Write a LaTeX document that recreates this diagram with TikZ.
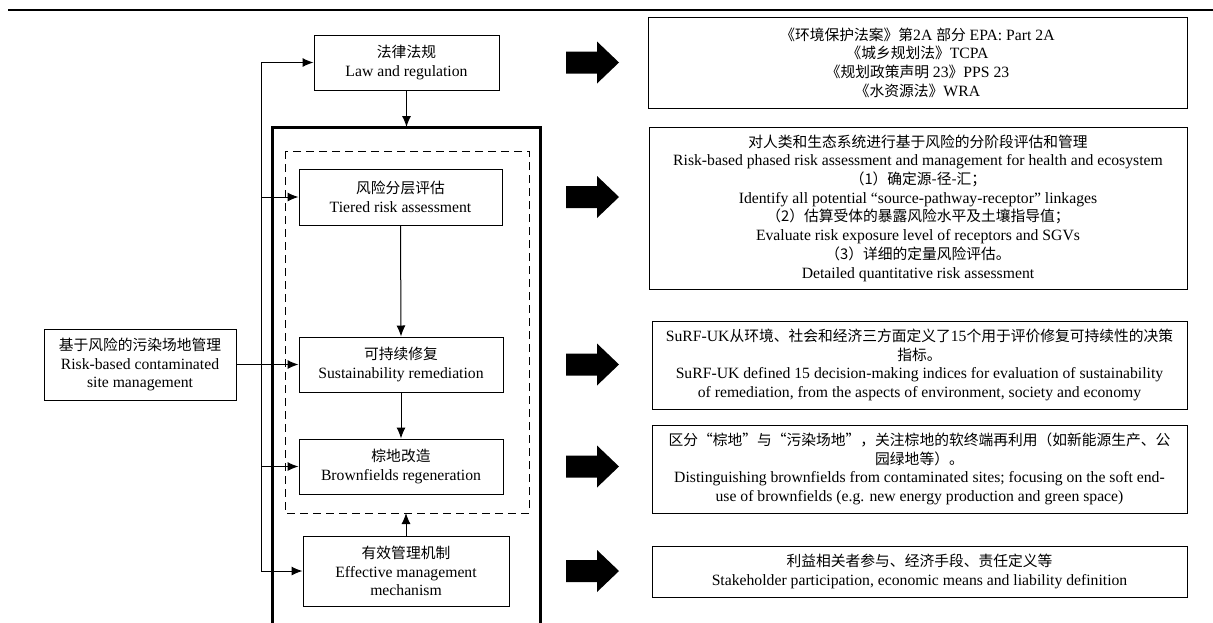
\documentclass[tikz,border=0pt]{standalone}
\usepackage{fontspec}
\setmainfont{Liberation Serif}
\newfontfamily\zhfont[Scale=0.94]{Noto Sans CJK SC}
\newcommand{\zhs}[1]{{\zhfont #1}}
\usetikzlibrary{arrows.meta}

\begin{document}
\begin{tikzpicture}[x=1pt,y=-1pt,line width=1pt,>={Latex[length=11pt,width=9pt]},
  box/.style={draw,inner sep=0pt,align=center,font=\fontsize{15.7}{18.7}\selectfont},
  bigarrow/.pic={\fill (0,-11) -- (31,-11) -- (31,-21) -- (53,0) -- (31,21) -- (31,11) -- (0,11) -- cycle;}]
\useasboundingbox (0,0) rectangle (1213,622);
\draw[line width=2pt] (8,10) -- (1213,10);

% left column
\node[box,minimum width=185pt,minimum height=55pt] (law) at (406.5,62.5) {\zhs{法律法规}\\Law and regulation};
\node[box,minimum width=203pt,minimum height=56pt] (tier) at (400.5,197) {\zhs{风险分层评估}\\Tiered risk assessment};
\node[box,minimum width=204pt,minimum height=55pt] (sust) at (401,364.5) {\zhs{可持续修复}\\Sustainability remediation};
\node[box,minimum width=204pt,minimum height=55pt] (brown) at (401,466.5) {\zhs{棕地改造}\\Brownfields regeneration};
\node[box,minimum width=206pt,minimum height=70pt] (eff) at (406,571) {\zhs{有效管理机制}\\Effective management\\mechanism};
\node[box,minimum width=192pt,minimum height=71pt] (site) at (140,364.5) {\zhs{基于风险的污染场地管理}\\Risk-based contaminated\\site management};

% frames
\coordinate (ftl) at (272,127);
\coordinate (ftr) at (540,127);
\coordinate (dbl) at (285,513);
\draw[line width=3pt] (272,640) -- (ftl) -- (ftr) -- (540,640);
\draw[dash pattern=on 8pt off 5pt] (285,151) rectangle (529,513);

% links
\coordinate (bt) at (261,62.5);
\coordinate (bb) at (261,571);
\draw (bt) -- (bb);
\foreach \n in {law,tier,brown,eff}
  \draw[->] (bt |- \n.west) -- (\n.west);
\draw[->] (site.east) -- (sust.west);
\draw[->] (law.south) -- (law.south |- ftl);
\draw[->] (tier.south) -- (sust.north);
\draw[->] (sust.south) -- (brown.north);
\draw[->] (eff.north) -- (eff.north |- dbl);

% big arrows
\coordinate (ax) at (566,0);
\foreach \n in {law,tier,sust,brown,eff}
  \pic at (ax |- \n) {bigarrow};

% right column
\node[box,minimum width=539pt,minimum height=91pt] (lawtxt) at (917.5,62.5)
  {\zhs{《环境保护法案》第}2A \zhs{部分} EPA: Part 2A\\
   \zhs{《城乡规划法》}TCPA\\
   \zhs{《规划政策声明} 23\zhs{》}PPS 23\\
   \zhs{《水资源法》}WRA};
\node[box,minimum width=538pt,minimum height=162pt] (tiertxt) at (918,208)
  {\zhs{对人类和生态系统进行基于风险的分阶段评估和管理}\\
   Risk-based phased risk assessment and management for health and ecosystem\\
   \zhs{（1）确定源-径-汇；}\\
   Identify all potential ``source-pathway-receptor'' linkages\\
   \zhs{（2）估算受体的暴露风险水平及土壤指导值；}\\
   Evaluate risk exposure level of receptors and SGVs\\
   \zhs{（3）详细的定量风险评估。}\\
   Detailed quantitative risk assessment};
\node[box,minimum width=535pt,minimum height=88pt] (susttxt) at (919.5,365)
  {SuRF-UK\zhs{从环境、社会和经济三方面定义了}15\zhs{个用于评价修复可持续性的决策}\\
   \zhs{指标。}\\
   SuRF-UK defined 15 decision-making indices for evaluation of sustainability\\
   of remediation, from the aspects of environment, society and economy};
\node[box,minimum width=535pt,minimum height=88pt] (browntxt) at (919.5,469)
  {\zhs{区分“棕地”与“污染场地”，关注棕地的软终端再利用（如新能源生产、公}\\
   \zhs{园绿地等）。}\\
   Distinguishing brownfields from contaminated sites; focusing on the soft end-\\
   use of brownfields (e.g. new energy production and green space)};
\node[box,minimum width=535pt,minimum height=51pt] (efftxt) at (919.5,571.5)
  {\zhs{利益相关者参与、经济手段、责任定义等}\\
   Stakeholder participation, economic means and liability definition};
\end{tikzpicture}
\end{document}
